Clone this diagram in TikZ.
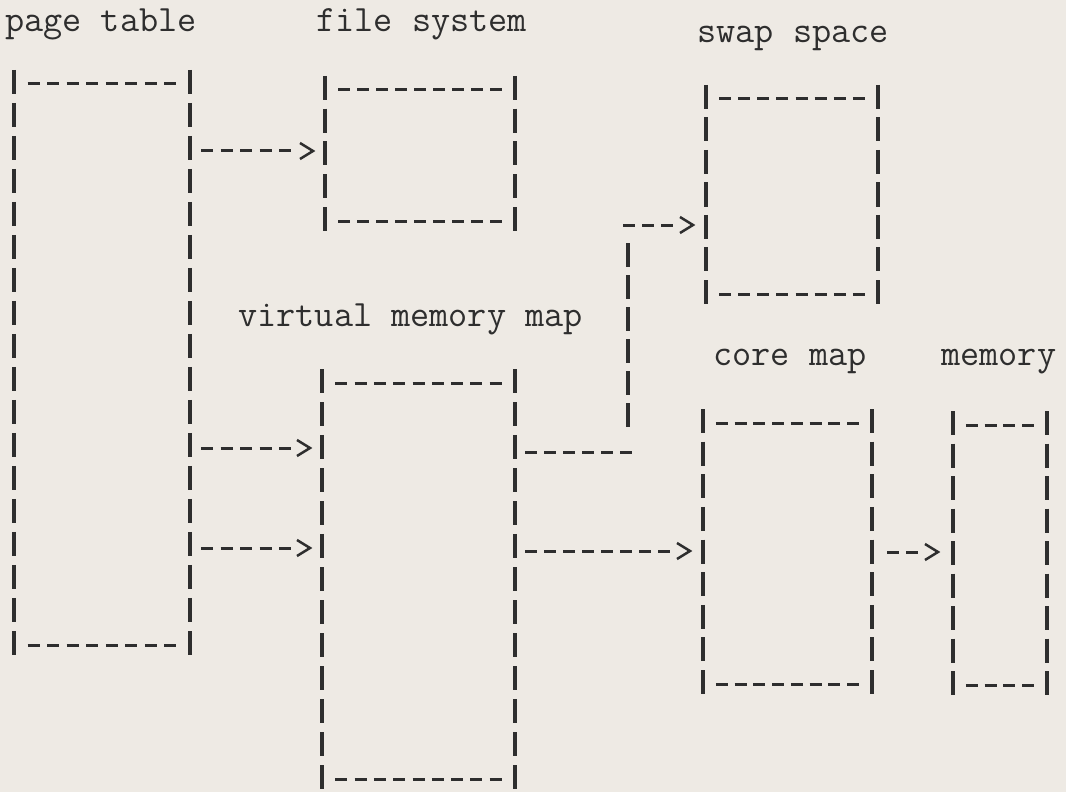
\documentclass[tikz,border=0pt]{standalone}
\usepackage{fontspec}
\usetikzlibrary{calc,fit}
\definecolor{paper}{RGB}{238,234,228}
\definecolor{ink}{RGB}{46,46,46}
\tikzset{
  boxnode/.style={inner sep=0pt, outer sep=0pt, draw=none},
  barseg/.style={draw=ink, line width=1.7pt},
  dashseg/.style={draw=ink, line width=1.5pt},
  chevron/.style={draw=ink, line width=1.25pt, line join=miter},
  lbl/.style={anchor=base west, inner sep=0pt, text=ink, font=\ttfamily\fontsize{18.57}{20}\selectfont},
}
% typewriter box: #1 node, #2 rows-1, #3 number of dashes
\newcommand\tybox[3]{%
  \foreach \i in {0,...,#2}{%
    \pgfmathsetmacro\tyf{\i/#2}%
    \draw[barseg] ($(#1.north west)!\tyf!(#1.south west)+(0,-12)$) -- ++(0,24);
    \draw[barseg] ($(#1.north east)!\tyf!(#1.south east)+(0,-12)$) -- ++(0,24);
  }%
  \foreach \j in {1,...,#3}{%
    \pgfmathsetmacro\tyg{\j/(#3+1)}%
    \draw[dashseg] ($(#1.north west)!\tyg!(#1.north east)+(-6,2)$) -- ++(12,0);
    \draw[dashseg] ($(#1.south west)!\tyg!(#1.south east)+(-6,2)$) -- ++(12,0);
  }%
}
% row of dashes: #1 start coordinate, #2 count, #3 pitch
\newcommand\tydashes[3]{%
  \foreach \k in {1,...,#2}{\draw[dashseg] ($(#1)+({(\k-1)*#3},0)$) -- ++(12,0);}%
}
% chevron arrow head with tip at #1
\newcommand\tychev[1]{\draw[chevron] ($(#1)+(-13,-8)$) -- (#1) -- ($(#1)+(-13,8)$);}
\begin{document}
\begin{tikzpicture}[x=0.5pt,y=-0.5pt]
\fill[paper] (0,0) rectangle (1066,792);
\useasboundingbox (0,0) rectangle (1066,792);
% labels
\node[lbl] (lpt) at (5,32) {page table};
\node[lbl] (lfs) at (316,32) {file system};
\node[lbl] (lsw) at (697,43) {swap space};
\node[lbl] (lvm) at (238,326) {virtual memory map};
\node[lbl] (lcm) at (713,365) {core map};
\node[lbl] (lmm) at (941,365) {memory};
% boxes
\node[boxnode, fit={(14,82)(190,643)}] (pt) {};
\node[boxnode, fit={(325,88)(515,219)}] (fs) {};
\node[boxnode, fit={(706,97)(878,292)}] (swap) {};
\node[boxnode, fit={(322,381)(515,777)}] (vmm) {};
\node[boxnode, fit={(703,421)(872,682)}] (core) {};
\node[boxnode, fit={(953,423)(1047,683)}] (mem) {};
\tybox{pt}{17}{8}
\tybox{fs}{4}{9}
\tybox{swap}{6}{8}
\tybox{vmm}{12}{9}
\tybox{core}{8}{8}
\tybox{mem}{8}{4}
% row helpers
\coordinate (y151) at (0,151);
\coordinate (y448) at (0,448);
\coordinate (y548) at (0,548);
\coordinate (y551) at (0,551);
\coordinate (y552) at (0,552);
\coordinate (y452) at (0,452);
\coordinate (y225) at (0,225);
% page table -> file system
\coordinate (a1s) at ($(pt.east |- y151)+(11,0)$);
\coordinate (a1t) at ($(fs.west |- y151)+(-12,0)$);
\tydashes{a1s}{5}{19.5}
\tychev{a1t}
% page table -> virtual memory map (two)
\coordinate (a2s) at ($(pt.east |- y448)+(11,0)$);
\coordinate (a2t) at ($(vmm.west |- y448)+(-12,0)$);
\tydashes{a2s}{5}{19.5}
\tychev{a2t}
\coordinate (a3s) at ($(pt.east |- y548)+(11,0)$);
\coordinate (a3t) at ($(vmm.west |- y548)+(-12,0)$);
\tydashes{a3s}{5}{19.5}
\tychev{a3t}
% virtual memory map -> core map
\coordinate (a4s) at ($(vmm.east |- y551)+(10,0)$);
\coordinate (a4t) at ($(core.west |- y551)+(-13,0)$);
\tydashes{a4s}{8}{19}
\tychev{a4t}
% core map -> memory
\coordinate (a5s) at ($(core.east |- y552)+(15,0)$);
\coordinate (a5t) at ($(mem.west |- y552)+(-15,0)$);
\tydashes{a5s}{2}{19}
\tychev{a5t}
% virtual memory map -> swap space
\coordinate (a6s) at ($(vmm.east |- y452)+(10,0)$);
\coordinate (b1) at ($(vmm.east |- y452)+(113,0)$);
\coordinate (b2) at (b1 |- y225);
\tydashes{a6s}{6}{19}
\draw[barseg, dash pattern=on 12pt off 4pt] ($(b2)+(0,18)$) -- ($(b1)+(0,-25)$);
\coordinate (a6u) at ($(b2)+(-5,0)$);
\coordinate (a6t) at ($(swap.west |- y225)+(-13,0)$);
\tydashes{a6u}{3}{19}
\tychev{a6t}
\end{tikzpicture}
\end{document}
